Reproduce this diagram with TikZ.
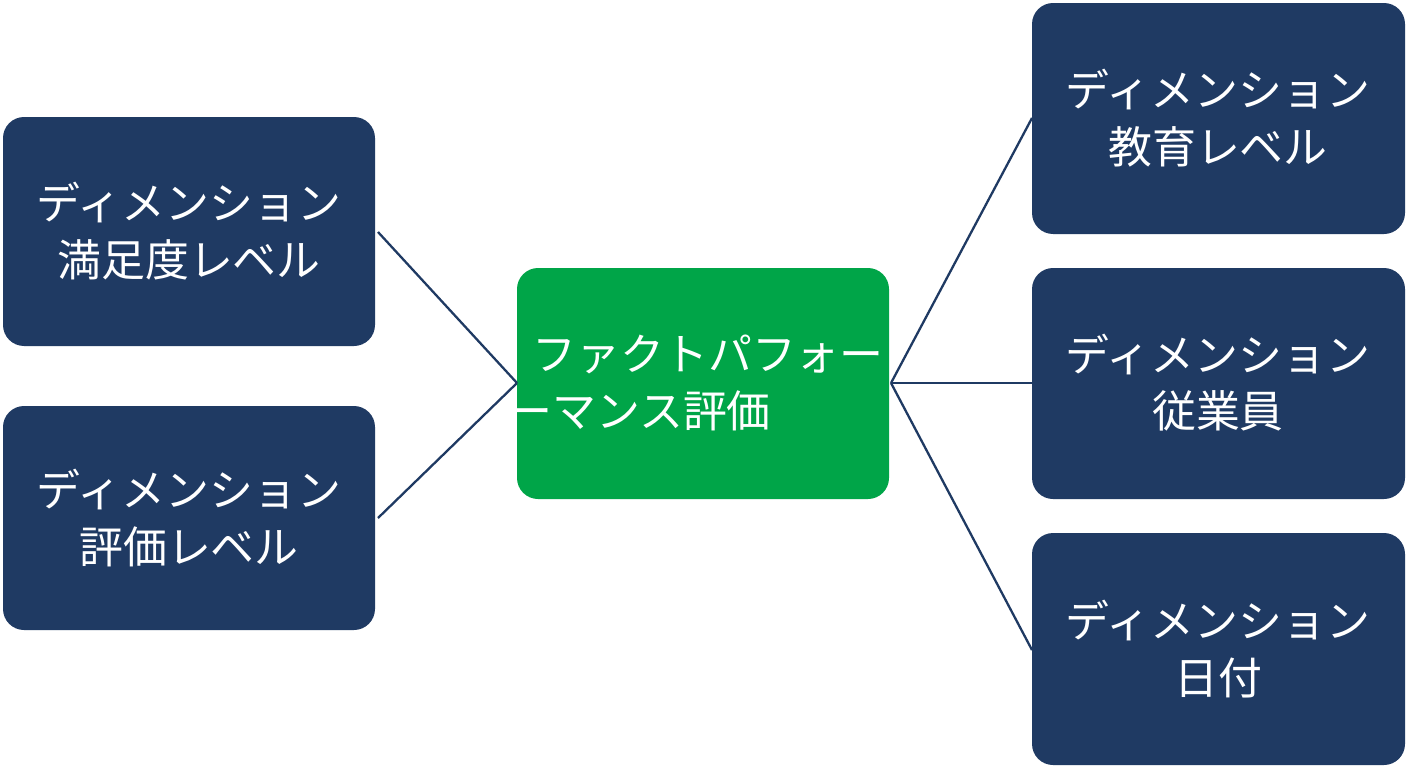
\documentclass[tikz,border=0pt]{standalone}
\usepackage{fontspec}
\newfontfamily\cjk{Noto Sans CJK JP}
\definecolor{navy}{HTML}{1F3A63}
\definecolor{grn}{HTML}{00A548}
\begin{document}
\begin{tikzpicture}[x=0.02cm,y=-0.02cm,
 box/.style={fill=navy,rounded corners=12pt,text=white,font=\cjk\fontsize{25}{32}\selectfont,align=center,inner sep=0pt},
 ln/.style={draw=navy,line width=1.3pt}]
\useasboundingbox[fill=white] (0,0) rectangle (1408,768);
\fill[navy,rounded corners=12pt] (3,117) rectangle (375,346);
\node[text=white,font=\cjk\fontsize{25}{32}\selectfont,align=center] (l1) at (189,231) {ディメンション\\満足度レベル};
\fill[navy,rounded corners=12pt] (3,406) rectangle (375,630);
\node[text=white,font=\cjk\fontsize{25}{32}\selectfont,align=center] (l2) at (189,518) {ディメンション\\評価レベル};
\fill[grn,rounded corners=12pt] (517,268) rectangle (889,499);
\node[text=white,font=\cjk\fontsize{25}{32}\selectfont,align=left] (c) at (696,383) {\hspace{0.55em}ファクトパフォー\\ーマンス評価};
\fill[navy,rounded corners=12pt] (1032,3) rectangle (1405,234);
\node[text=white,font=\cjk\fontsize{25}{32}\selectfont,align=center] (r1) at (1218,118) {ディメンション\\教育レベル};
\fill[navy,rounded corners=12pt] (1032,268) rectangle (1405,499);
\node[text=white,font=\cjk\fontsize{25}{32}\selectfont,align=center] (r2) at (1218,383) {ディメンション\\従業員};
\fill[navy,rounded corners=12pt] (1032,533) rectangle (1405,765);
\node[text=white,font=\cjk\fontsize{25}{32}\selectfont,align=center] (r3) at (1218,649) {ディメンション\\日付};
\coordinate (a1) at (378,232); \coordinate (a2) at (378,518);
\coordinate (cl) at (517,383); \coordinate (cr) at (891,383);
\coordinate (b1) at (1032,118); \coordinate (b2) at (1032,383); \coordinate (b3) at (1032,650);
\draw[ln] (a1) -- (cl); \draw[ln] (a2) -- (cl);
\draw[ln] (cr) -- (b1); \draw[ln] (cr) -- (b2); \draw[ln] (cr) -- (b3);
\end{tikzpicture}
\end{document}
